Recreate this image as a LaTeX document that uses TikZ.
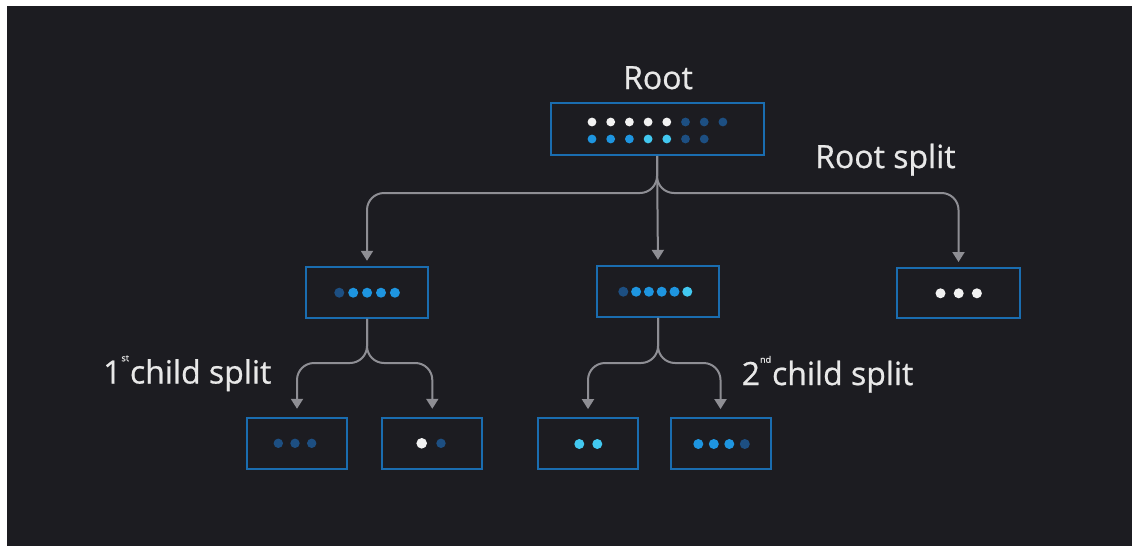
\documentclass[tikz,border=0pt]{standalone}
\usepackage{fontspec}
\setmainfont{Open Sans}
\newfontfamily\lblfont{Open Sans}[FakeBold=0.7]
\usetikzlibrary{arrows.meta}

\definecolor{bg}{HTML}{1C1C21}
\definecolor{frame}{HTML}{1A6DB0}
\definecolor{wire}{HTML}{8E8E94}
\definecolor{ink}{HTML}{E8E8E8}
\definecolor{dW}{HTML}{F2F2F2}
\definecolor{dD}{HTML}{1D4F82}
\definecolor{dB}{HTML}{1E95E0}
\definecolor{dC}{HTML}{42C8F0}

\tikzset{
  keybox/.style={draw=frame, line width=2pt, fill=bg, inner sep=0pt},
  conn/.style={draw=wire, line width=2pt, rounded corners=17pt,
               -{Triangle[width=12pt,length=10pt]}},
  lbl/.style={text=ink, font=\lblfont\fontsize{32}{36}\selectfont, inner sep=0pt},
}

\begin{document}
\begin{tikzpicture}[x=1pt, y=-1pt]
  % canvas
  \useasboundingbox (0,0) rectangle (1132,546);
  \fill[white] (0,0) rectangle (1132,546);
  \fill[bg] (7,6) rectangle (1132,546);

  % tree nodes
  \node[keybox, minimum width=213pt, minimum height=52pt] (root) at (657,129) {};
  \node[keybox, minimum width=122pt, minimum height=51pt] (c1) at (367,292.3) {};
  \node[keybox, minimum width=122pt, minimum height=51pt] (c2) at (658,291.3) {};
  \node[keybox, minimum width=123pt, minimum height=50pt] (c3) at (958.5,293) {};
  \node[keybox, minimum width=100pt, minimum height=51pt] (l1) at (297,443.3) {};
  \node[keybox, minimum width=100pt, minimum height=51pt] (l2) at (432.3,443.3) {};
  \node[keybox, minimum width=100pt, minimum height=51pt] (l3) at (588,443.6) {};
  \node[keybox, minimum width=100pt, minimum height=51pt] (l4) at (720.5,443.6) {};

  % key dots: root
  \foreach \c [count=\i from 0] in {dW,dW,dW,dW,dW,dD,dD,dD}
    \fill[\c] (592+18.7*\i,122) circle (4.4pt);
  \foreach \c [count=\i from 0] in {dB,dB,dB,dC,dC,dD,dD}
    \fill[\c] (592+18.7*\i,139) circle (4.4pt);
  % first level
  \foreach \c [count=\i from 0] in {dD,dB,dB,dB,dB}
    \fill[\c] (339.3+13.9*\i,292.7) circle (5pt);
  \foreach \c [count=\i from 0] in {dD,dB,dB,dB,dB,dC}
    \fill[\c] (623.3+12.8*\i,291.7) circle (5pt);
  \foreach \c [count=\i from 0] in {dW,dW,dW}
    \fill[\c] (940.5+18.2*\i,293.3) circle (5pt);
  % leaves
  \foreach \c [count=\i from 0] in {dD,dD,dD}
    \fill[\c] (278.3+16.7*\i,443.3) circle (4.7pt);
  \fill[dW] (421.7,443.3) circle (5.3pt);
  \fill[dD] (441,443.3) circle (4.7pt);
  \foreach \c [count=\i from 0] in {dC,dC}
    \fill[\c] (579.3+18*\i,444) circle (5pt);
  \foreach \c [count=\i from 0] in {dB,dB,dB,dD}
    \fill[\c] (698.3+15.5*\i,444) circle (5pt);

  % split points
  \coordinate (s0) at (657.5,193);
  \coordinate (s1) at (366.5,363);
  \coordinate (s2) at (657.5,363);

  % root split
  \draw[conn, shorten >=5pt] (root.south) -- (root.south |- s0) -| (c1.north);
  \draw[conn, shorten >=5pt] (root.south) -- (c2.north);
  \draw[conn, shorten >=5pt] (root.south) -- (root.south |- s0) -| (c3.north);
  % first child split
  \draw[conn, shorten >=8pt] (c1.south) -- (c1.south |- s1) -| (l1.north);
  \draw[conn, shorten >=8pt] (c1.south) -- (c1.south |- s1) -| (l2.north);
  % second child split
  \draw[conn, shorten >=8pt] (c2.south) -- (c2.south |- s2) -| (l3.north);
  \draw[conn, shorten >=8pt] (c2.south) -- (c2.south |- s2) -| (l4.north);

  % labels
  \node[lbl, anchor=base] (tRoot) at (658,89) {Root};
  \node[lbl, anchor=base west] (tRootSplit) at (815,168) {Root split};
  \node[lbl, anchor=base west] (tChild1) at (103,383.5)
    {1\raisebox{1.3ex}{\fontsize{9}{10}\selectfont st}\hspace{1pt}child split};
  \node[lbl, anchor=base west] (tChild2) at (741.5,385)
    {2\raisebox{1.3ex}{\fontsize{9}{10}\selectfont nd}\hspace{1pt}child split};
\end{tikzpicture}
\end{document}
